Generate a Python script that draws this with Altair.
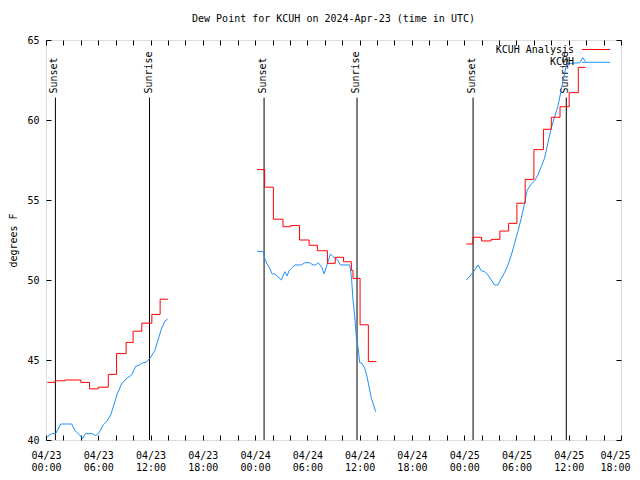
import altair as alt
import pandas as pd

# hours after 2024-04-23 00:00 UTC
red_h1 = [0.15, 1.05, 2.2, 4.0, 5.0, 6.0, 7.15, 8.1, 9.2, 10.0, 11.0, 12.15, 13.1, 14.0]
red_v1 = [43.6, 43.7, 43.75, 43.6, 43.2, 43.3, 44.1, 45.4, 46.1, 46.8, 47.3, 47.85, 48.8, 48.8]
red_h2 = [24.23, 25.1, 26.1, 27.2, 28.06, 29.1, 30.2, 31.15, 32.3, 33.2, 34.15, 35.05, 35.24, 36.05, 37.0, 37.92]
red_v2 = [56.9, 55.8, 53.8, 53.33, 53.4, 52.5, 52.17, 51.83, 51.04, 51.42, 51.14, 50.6, 50.1, 47.2, 44.9, 44.9]
red_h3 = [48.25, 49.0, 50.0, 51.1, 52.1, 53.1, 54.05, 55.0, 56.0, 57.1, 58.0, 59.0, 60.05, 61.1, 61.93]
red_v3 = [52.25, 52.67, 52.44, 52.54, 53.06, 53.54, 54.8, 56.29, 58.15, 59.42, 60.17, 60.83, 61.71, 63.29, 63.29]

blue_h1 = [0.15, 0.65, 1.11, 1.69, 2.95, 3.33, 4.21, 4.55, 5.31, 5.7, 6.08, 6.57, 6.96, 7.42, 7.8, 8.18,
           8.68, 9.25, 9.83, 10.29, 10.78, 10.97, 11.47, 11.93, 12.5, 12.88, 13.27, 13.65, 13.96]
blue_v1 = [40.2, 40.4, 40.4, 41.0, 41.0, 40.6, 40.1, 40.4, 40.4, 40.27, 40.45, 40.94, 41.15, 41.56, 42.2, 42.9,
           43.5, 43.85, 44.06, 44.6, 44.7, 44.8, 44.86, 45.1, 45.6, 46.3, 46.98, 47.44, 47.55]
blue_h2 = [24.23, 24.92, 25.11, 25.38, 25.69, 25.95, 26.26, 26.53, 27.03, 27.41, 27.67, 27.9, 28.18, 28.56,
           29.32, 29.7, 30.28, 30.65, 30.96, 31.23, 31.62, 31.92, 32.19, 32.45, 32.65, 32.95, 33.41, 33.8,
           34.86, 35.06, 35.24, 35.44, 35.63, 35.81, 36.01, 36.27, 36.58, 36.85, 37.08, 37.35, 37.61, 37.84]
blue_v2 = [51.8, 51.77, 51.35, 51.0, 50.73, 50.38, 50.38, 50.25, 50.0, 50.52, 50.25, 50.58, 50.73, 50.94,
           50.94, 51.08, 51.08, 50.94, 50.94, 51.08, 50.83, 50.38, 50.83, 51.29, 51.63, 51.46, 51.29, 50.94,
           50.94, 50.2, 48.75, 47.7, 46.35, 45.83, 44.83, 44.79, 44.48, 43.96, 43.33, 42.6, 42.19, 41.77]
blue_h3 = [48.25, 49.01, 49.58, 49.97, 50.34, 50.73, 51.11, 51.49, 51.87, 52.26, 52.64, 53.02, 53.41, 53.78,
           54.16, 54.55, 54.93, 55.22, 55.62, 56.08, 56.46, 56.85, 57.22, 57.6, 57.99, 58.37, 58.75, 59.14,
           59.52, 59.78, 60.29, 60.78, 61.24, 61.62, 61.93]
blue_v3 = [50.0, 50.46, 50.94, 50.58, 50.52, 50.31, 50.0, 49.69, 49.69, 50.1, 50.46, 50.94, 51.56, 52.29,
           53.02, 53.85, 54.79, 55.6, 55.94, 56.2, 56.56, 57.08, 57.6, 58.54, 59.48, 60.2, 60.83, 61.88,
           62.92, 63.54, 63.54, 63.56, 63.58, 63.9, 63.65]

event_names = ["Sunset", "Sunrise", "Sunset", "Sunrise", "Sunset", "Sunrise"]
event_h = [1.08, 11.88, 25.03, 35.7, 49.02, 59.72]
event_lo = 40.0
event_hi = 61.4
event_label_y = 61.65

series_names = ["KCUH Analysis", "KCUH"]
series_colors = ["#ff0000", "#1e90ff"]

y_ticks = [40, 45, 50, 55, 60, 65]
x_end_h = 66

FONT = "DejaVu Sans Mono"
base_ms = pd.Timestamp("2024-04-23", tz="UTC").value // 10**6
H = 3600000


def ms(h):
    return base_ms + h * H


def frame(hs, vs, seg):
    return pd.DataFrame({"time": [ms(h) for h in hs], "value": vs, "seg": seg})


red_df = pd.concat([frame(red_h1, red_v1, 1), frame(red_h2, red_v2, 2), frame(red_h3, red_v3, 3)])
blue_df = pd.concat([frame(blue_h1, blue_v1, 1), frame(blue_h2, blue_v2, 2), frame(blue_h3, blue_v3, 3)])
ev_df = pd.DataFrame({"time": [ms(h) for h in event_h], "name": event_names,
                      "lo": event_lo, "hi": event_hi, "ly": event_label_y})

xscale = alt.Scale(type="utc", domain=[ms(0), ms(x_end_h)], nice=False)
yscale = alt.Scale(domain=[40, 65], nice=False, zero=False)
xvals = [ms(h) for h in range(0, x_end_h + 1, 2)]

label_expr = ("utchours(datum.value) % 6 == 0 ? [utcFormat(datum.value, '%m/%d'), "
              "utcFormat(datum.value, '%H:%M')] : ''")

x_bottom = alt.Axis(orient="bottom", values=xvals, labelExpr=label_expr, title=None, grid=False,
                    domain=False, tickSize=5, offset=-5, tickColor="black", labelFont=FONT,
                    labelFontSize=10, labelColor="black", labelPadding=10, labelLineHeight=12,
                    labelFlush=False, labelOverlap=False, labelBaseline="top",
                    labelOffset={"condition": {"test": f"time(datum.value) >= {ms(x_end_h) - 60000}",
                                               "value": -6},
                                 "value": 0})
x_top = alt.Axis(orient="top", values=xvals, labels=False, title=None, grid=False, domain=False,
                 tickSize=5, offset=-5, tickColor="black")
y_left = alt.Axis(orient="left", values=y_ticks, format="d", title="degrees F", grid=False, domain=False,
                  tickSize=5, offset=-5, tickColor="black", labelFont=FONT, labelFontSize=10,
                  labelColor="black", labelPadding=7, titleFont=FONT, titleFontSize=10,
                  titleFontWeight="normal", titleColor="black", titlePadding=8)
y_right = alt.Axis(orient="right", values=y_ticks, labels=False, title=None, grid=False, domain=False,
                   tickSize=5, offset=-5, tickColor="black")

rules = alt.Chart(ev_df).mark_rule(color="black", strokeWidth=1).encode(
    x=alt.X("time:T", scale=xscale, axis=None),
    y=alt.Y("lo:Q", scale=yscale, axis=None),
    y2="hi:Q",
)
ev_text = alt.Chart(ev_df).mark_text(angle=270, align="left", baseline="middle", font=FONT,
                                     fontSize=10, color="black", dy=-1).encode(
    x=alt.X("time:T", scale=xscale, axis=None),
    y=alt.Y("ly:Q", scale=yscale, axis=None),
    text="name:N",
)
blue = alt.Chart(blue_df).mark_line(color=series_colors[1], strokeWidth=1).encode(
    x=alt.X("time:T", scale=xscale, axis=x_bottom),
    y=alt.Y("value:Q", scale=yscale, axis=y_left),
    detail="seg:N",
)
red = alt.Chart(red_df).mark_line(color=series_colors[0], strokeWidth=1, interpolate="step-after").encode(
    x=alt.X("time:T", scale=xscale, axis=x_top),
    y=alt.Y("value:Q", scale=yscale, axis=y_right),
    detail="seg:N",
)

legend_layers = []
leg_y = [9.5, 22.3]
for name, col, yy in zip(series_names, series_colors, leg_y):
    d = pd.DataFrame({"n": [name]})
    legend_layers.append(alt.Chart(d).mark_text(align="right", baseline="middle", font=FONT, fontSize=10,
                                                color="black").encode(
        x=alt.value(528), y=alt.value(yy), text="n:N"))
    legend_layers.append(alt.Chart(d).mark_rule(color=col, strokeWidth=1).encode(
        x=alt.value(536), x2=alt.value(564), y=alt.value(yy)))

chart = alt.layer(rules, ev_text, blue, red, *legend_layers).properties(
    width=575, height=400,
    title=alt.TitleParams("Dew Point for KCUH on 2024-Apr-23 (time in UTC)", font=FONT, fontSize=10,
                          fontWeight="normal", color="black", anchor="middle", offset=11),
    padding={"left": 38, "top": 32, "right": 11, "bottom": 32},
    autosize=alt.AutoSizeParams(type="none"),
).configure_view(stroke="black", strokeWidth=1).configure(background="white")

chart.save("out.html", embed_options={"renderer": "svg", "actions": False})
